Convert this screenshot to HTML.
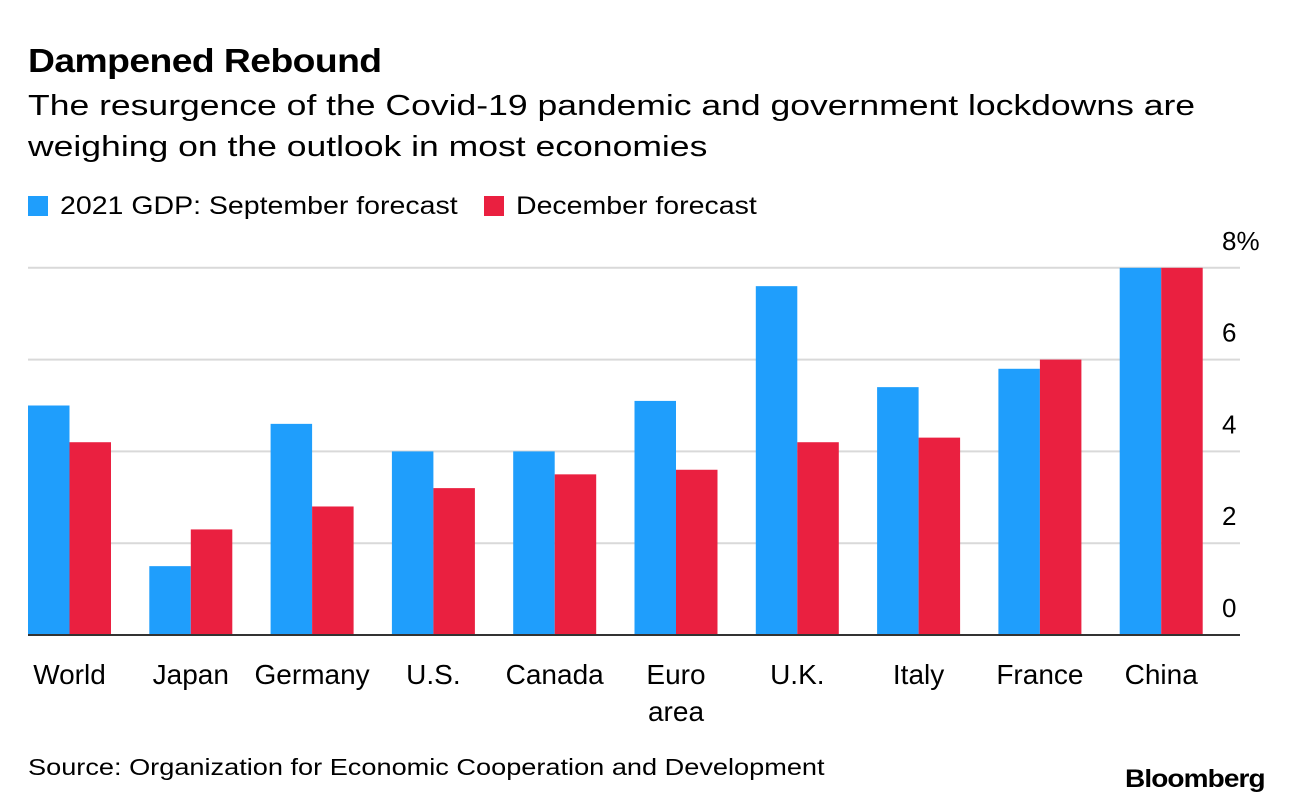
<!DOCTYPE html>
<html><head><meta charset="utf-8"><style>
body{margin:0;width:1292px;height:806px;background:#fff;font-family:"Liberation Sans",sans-serif;color:#000;position:relative;overflow:hidden}
.t{position:absolute;white-space:nowrap;transform-origin:0 0}
</style></head><body>
<div class="t" style="left:28px;top:42px;font-size:33px;font-weight:bold;letter-spacing:-0.5px;transform:scaleX(1.13)">Dampened Rebound</div>
<div class="t" style="left:28px;top:86px;font-size:29px;line-height:41px;transform:scaleX(1.225)">The resurgence of the Covid-19 pandemic and government lockdowns are<br>weighing on the outlook in most economies</div>
<div class="t" style="left:28px;top:192px;font-size:25px"><span style="display:inline-block;width:20px;height:20px;background:#1f9efc;vertical-align:-2px;margin-right:12px"></span><span style="display:inline-block;transform:scaleX(1.14);transform-origin:0 0">2021 GDP: September forecast</span></div>
<div class="t" style="left:484px;top:192px;font-size:25px"><span style="display:inline-block;width:20px;height:20px;background:#ea2040;vertical-align:-2px;margin-right:12px"></span><span style="display:inline-block;transform:scaleX(1.14);transform-origin:0 0">December forecast</span></div>
<svg id="c" width="1292" height="806" style="position:absolute;left:0;top:0"></svg>
<div class="t" style="left:28px;top:754px;font-size:23px;transform:scaleX(1.18)">Source: Organization for Economic Cooperation and Development</div>
<div class="t" style="left:1125px;top:765px;font-size:25px;font-weight:bold;letter-spacing:-0.8px;transform:scaleX(1.12)">Bloomberg</div>
<script>
const categories=["World","Japan","Germany","U.S.","Canada","Euro\narea","U.K.","Italy","France","China"];
const september=[5.0,1.5,4.6,4.0,4.0,5.1,7.6,5.4,5.8,8.0];
const december=[4.2,2.3,2.8,3.2,3.5,3.6,4.2,4.3,6.0,8.0];
const ticks=[0,2,4,6,8];
const svg=document.getElementById('c');
const NS='http://www.w3.org/2000/svg';
const y0=635,pxPer=45.9,x0=28,step=121.3,bw=41.5,right=1240;
const y=v=>y0-v*pxPer;
function el(t,a){const e=document.createElementNS(NS,t);for(const k in a)e.setAttribute(k,a[k]);svg.appendChild(e);return e;}
ticks.forEach(v=>{
  if(v>0){const g=el('line',{x1:x0,x2:right,y1:y(v),y2:y(v),stroke:'#d9d9d9','stroke-width':2});
  
  }
  const t=el('text',{x:1222,y:y(v)-18,'font-size':26,'font-family':'Liberation Sans'});
  t.textContent=v===8?'8%':String(v);
  
  
});
categories.forEach((c,i)=>{
  const x=x0+i*step;
  const b=el('rect',{x:x,y:y(september[i]),width:bw,height:september[i]*pxPer,fill:'#1f9efc'});
  
  
  const r=el('rect',{x:x+bw,y:y(december[i]),width:bw,height:december[i]*pxPer,fill:'#ea2040'});
  
  
  c.split('\n').forEach((ln,j)=>{
    const t=el('text',{x:x+bw,y:684+j*37,'font-size':28,'text-anchor':'middle','font-family':'Liberation Sans'});
    t.textContent=ln;
    
    
  });
});
const base=el('line',{x1:x0,x2:right,y1:y0,y2:y0,stroke:'#333','stroke-width':2});


</script>
</body></html>
